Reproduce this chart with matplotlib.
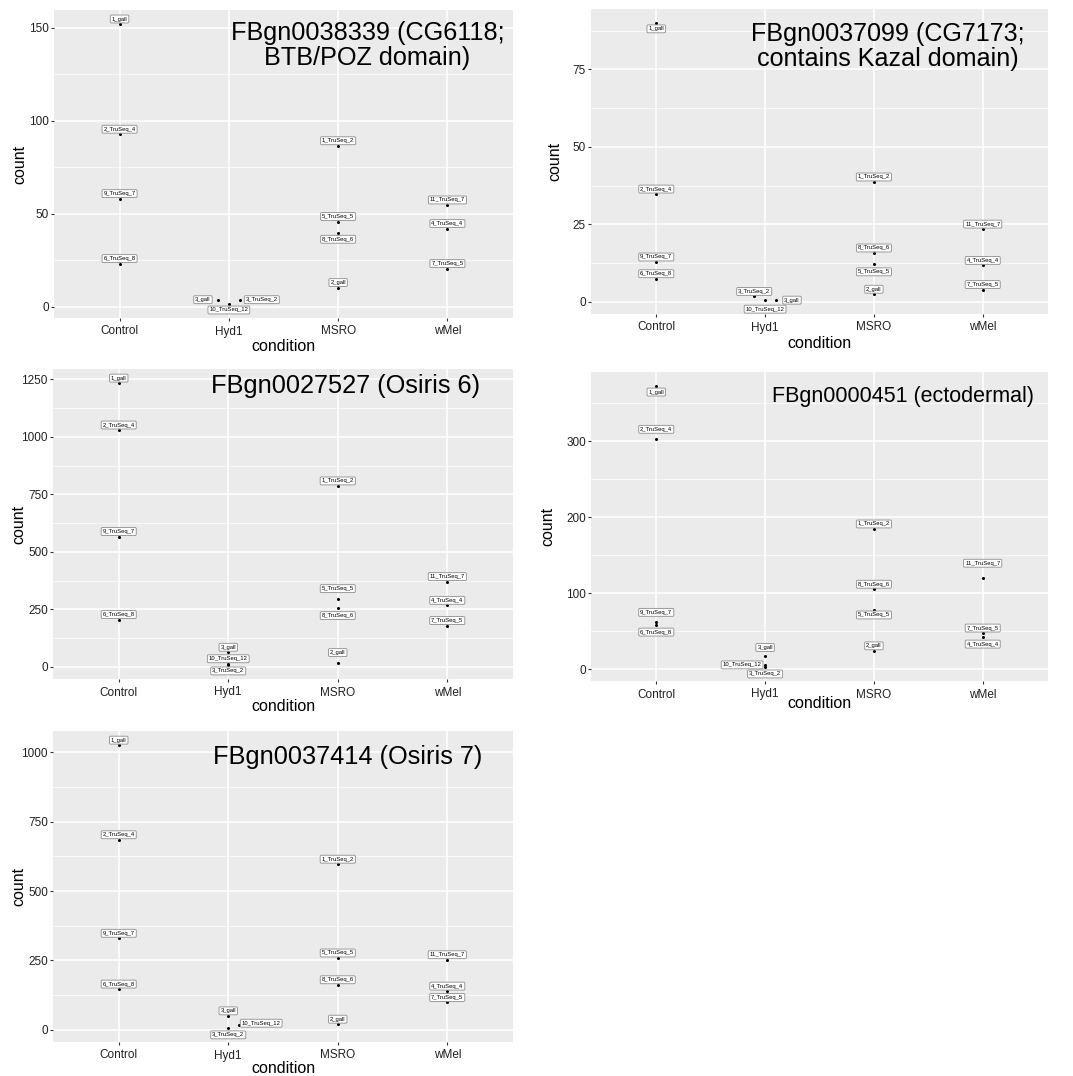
import matplotlib.pyplot as plt
from matplotlib.ticker import MultipleLocator

plt.rcParams['font.family'] = ['Liberation Sans', 'DejaVu Sans']

conditions = ["Control", "Hyd1", "MSRO", "wMel"]

samples = ["1_gall", "2_TruSeq_4", "9_TruSeq_7", "6_TruSeq_8",
           "3_gall", "3_TruSeq_2", "10_TruSeq_12",
           "1_TruSeq_2", "5_TruSeq_5", "8_TruSeq_6", "2_gall",
           "11_TruSeq_7", "4_TruSeq_4", "7_TruSeq_5"]
sample_condition = ["Control"] * 4 + ["Hyd1"] * 3 + ["MSRO"] * 4 + ["wMel"] * 3

genes = ["FBgn0038339 (CG6118;\nBTB/POZ domain)",
         "FBgn0037099 (CG7173;\ncontains Kazal domain)",
         "FBgn0027527 (Osiris 6)",
         "FBgn0000451 (ectodermal)",
         "FBgn0037414 (Osiris 7)"]

# normalised counts per sample, same order as `samples`
count_cg6118 = [152, 92.8, 58.2, 23.3, 3.9, 3.9, 1.6,
                86.6, 45.9, 39.6, 10.4, 54.8, 42.1, 20.6]
count_cg7173 = [90, 34.8, 12.9, 7.5, 0.6, 1.8, 0.6,
                38.7, 12.3, 15.8, 2.5, 23.5, 11.8, 4.0]
count_osi6 = [1234, 1030, 567, 206, 64, 9, 14,
              787, 297, 258, 19, 371, 268, 180]
count_ecto = [372.7, 302.6, 61.7, 58.1, 18, 3, 5.7,
              184.6, 78, 105.3, 24.2, 119.8, 42.3, 47.6]
count_osi7 = [1026, 685, 330, 147, 50.5, 7.2, 16.8,
              597, 259, 162.5, 20.5, 252.7, 139.6, 98.7]
counts = [count_cg6118, count_cg7173, count_osi6, count_ecto, count_osi7]

# small horizontal jitter (category units) where points overlap
jitter = [
    {"3_gall": -0.1, "3_TruSeq_2": 0.1},
    {"3_TruSeq_2": -0.1, "3_gall": 0.1},
    {},
    {},
    {"10_TruSeq_12": 0.1},
]

# ---- layout / styling ----
W, H = 1073, 1076
boxes = [(54, 10, 513, 318), (591, 9, 1048, 314), (53, 369, 513, 679),
         (591, 372, 1048, 681), (53, 731, 513, 1042)]
major_step = [50, 25, 250, 100, 250]
title_pos = [(0.683, 0.964), (0.649, 0.958), (0.635, 0.985), (0.683, 0.956), (0.641, 0.954)]
title_size = [18.2, 18.1, 18.3, 15.5, 18.3]
ylab_x = [-0.074, -0.079, -0.074, -0.094, -0.074]
xlab_y = [-0.094, -0.098, -0.089, -0.072, -0.084]

# label offsets in pixels (dx, dy); default is just above the point
label_off = [
    {"3_gall": (-15, 0), "3_TruSeq_2": (22, 0), "10_TruSeq_12": (0, -6), "8_TruSeq_6": (0, -6)},
    {"1_gall": (0, -6), "10_TruSeq_12": (0, -9), "3_gall": (16, 0), "5_TruSeq_5": (0, -8)},
    {"3_TruSeq_2": (0, -6), "5_TruSeq_5": (0, 10), "8_TruSeq_6": (0, -8), "2_gall": (0, 10)},
    {"1_gall": (0, -6), "2_TruSeq_4": (0, 10), "9_TruSeq_7": (0, 10), "6_TruSeq_8": (0, -7),
     "3_gall": (0, 8), "10_TruSeq_12": (-23, 0), "3_TruSeq_2": (0, -7), "5_TruSeq_5": (0, -5),
     "11_TruSeq_7": (0, 15), "4_TruSeq_4": (0, -7)},
    {"3_TruSeq_2": (0, -7), "10_TruSeq_12": (22, 2)},
]

fig = plt.figure(figsize=(W / 100, H / 100), dpi=100)

for i in range(5):
    x0, y0, x1, y1 = boxes[i]
    ax = fig.add_axes([x0 / W, 1 - y1 / H, (x1 - x0) / W, (y1 - y0) / H])
    ax.set_facecolor('#EBEBEB')
    for s in ax.spines.values():
        s.set_visible(False)

    vals = counts[i]
    xs = [conditions.index(c) + 1 + jitter[i].get(n, 0) for n, c in zip(samples, sample_condition)]
    ax.plot(xs, vals, 'o', color='black', markersize=1.2, zorder=3)

    for n, x, v in zip(samples, xs, vals):
        dx, dy = label_off[i].get(n, (0, 5))
        ax.annotate(n, (x, v), xytext=(dx, dy), textcoords='offset pixels',
                    ha='center', va='center', fontsize=4.2, zorder=4,
                    bbox=dict(boxstyle='round,pad=0.25,rounding_size=0.2',
                              fc='white', ec='#8C8C8C', lw=0.6))

    lo, hi = min(vals), max(vals)
    pad = (hi - lo) * 0.05
    ax.set_ylim(lo - pad, hi + pad)
    ax.set_xlim(0.4, 4.6)
    ax.set_xticks(range(1, 5))
    ax.set_xticklabels(conditions)
    ax.yaxis.set_major_locator(MultipleLocator(major_step[i]))
    ax.yaxis.set_minor_locator(MultipleLocator(major_step[i] / 2))
    ax.grid(which='major', color='white', lw=1.1)
    ax.grid(which='minor', axis='y', color='white', lw=0.5)
    ax.set_axisbelow(True)
    ax.tick_params(which='major', length=2.2, color='#333333', labelsize=8.5,
                   labelcolor='#222222', pad=1.5)
    ax.tick_params(axis='x', pad=3.2)
    ax.tick_params(which='minor', length=0)
    ax.set_xlabel('condition', fontsize=11.5, va='center')
    ax.set_ylabel('count', fontsize=11.5, va='center')
    ax.xaxis.set_label_coords(0.5, xlab_y[i])
    ax.yaxis.set_label_coords(ylab_x[i], 0.5)

    tx, ty = title_pos[i]
    ax.text(tx, ty, genes[i], transform=ax.transAxes, ha='center', va='top',
            fontsize=title_size[i], linespacing=1.04)

fig.savefig('out.png', dpi=100)
